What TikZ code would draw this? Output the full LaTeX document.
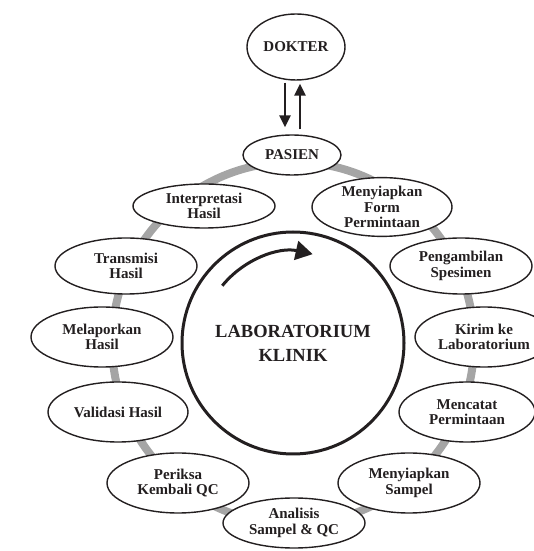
\documentclass[tikz,border=0pt]{standalone}
\usepackage{fontspec}
\setmainfont{Liberation Serif}
\usetikzlibrary{shapes.geometric,arrows.meta}
\definecolor{ink}{HTML}{231F20}
\definecolor{ring}{HTML}{A5A5A5}
\begin{document}
\begin{tikzpicture}[x=1pt,y=1pt,
  el/.style={draw=ink,ellipse,line width=1.4pt,inner sep=0pt,text=ink,
    font=\bfseries\fontsize{15}{15.5}\selectfont,align=center,fill=white},
  caps/.style={font=\bfseries\fontsize{15}{15.5}\selectfont},
  arr/.style={draw=ink,line width=2.4pt,-{Triangle[length=12pt,width=11pt]}},
]
\useasboundingbox (0,0) rectangle (534,551);
% grey ring
\node[circle,draw=ring,line width=8pt,minimum size=362pt,inner sep=0pt] (ringc) at (293,208) {};
% central circle
\node[circle,draw=ink,line width=3pt,minimum size=222pt,inner sep=0pt,align=center,text=ink,
  font=\bfseries\fontsize{18.5}{24}\selectfont] (lab) at (293,208) {LABORATORIUM\\KLINIK};
\draw[draw=ink,line width=3pt,-{Triangle[length=17pt,width=19pt]}]
  (lab.center) ++(141:91pt) arc[start angle=141,end angle=77.5,radius=91pt];
% ellipses
\node[el,caps,minimum width=98pt,minimum height=66pt] (dokter) at (296,504) {DOKTER};
\node[el,caps,minimum width=98pt,minimum height=40pt] (pasien) at (292,396) {PASIEN};
\node[el,minimum width=140pt,minimum height=48pt] (form) at (382,344) {Menyiapkan\\Form\\Permintaan};
\node[el,minimum width=142pt,minimum height=44pt] (interp) at (204,345) {Interpretasi\\Hasil};
\node[el,minimum width=142pt,minimum height=56pt] (ambil) at (461,285) {Pengambilan\\Spesimen};
\node[el,minimum width=142pt,minimum height=56pt] (trans) at (126,285) {Transmisi\\Hasil};
\node[el,minimum width=138pt,minimum height=60pt] (kirim) at (484,214) {Kirim ke\\Laboratorium};
\node[el,minimum width=142pt,minimum height=60pt] (lapor) at (102,214) {Melaporkan\\Hasil};
\node[el,minimum width=136pt,minimum height=60pt] (catat) at (467,139) {Mencatat\\Permintaan};
\node[el,minimum width=140pt,minimum height=60pt] (valid) at (118,139) {Validasi Hasil};
\node[el,minimum width=142pt,minimum height=60pt] (sampel) at (409,68) {Menyiapkan\\Sampel};
\node[el,minimum width=142pt,minimum height=60pt] (periksa) at (178,68) {Periksa\\Kembali QC};
\node[el,minimum width=142pt,minimum height=50pt] (analisis) at (294,28) {Analisis\\Sampel \& QC};
% arrows between DOKTER and PASIEN
\coordinate (d1) at ([xshift=-11pt]dokter.south);
\coordinate (d2) at ([xshift=4pt]dokter.south);
\draw[arr,shorten <=2pt,shorten >=7pt] (d1) -- (d1 |- pasien.north);
\draw[arr,shorten <=5pt,shorten >=3pt] (d2 |- pasien.north) -- (d2);
\end{tikzpicture}
\end{document}
